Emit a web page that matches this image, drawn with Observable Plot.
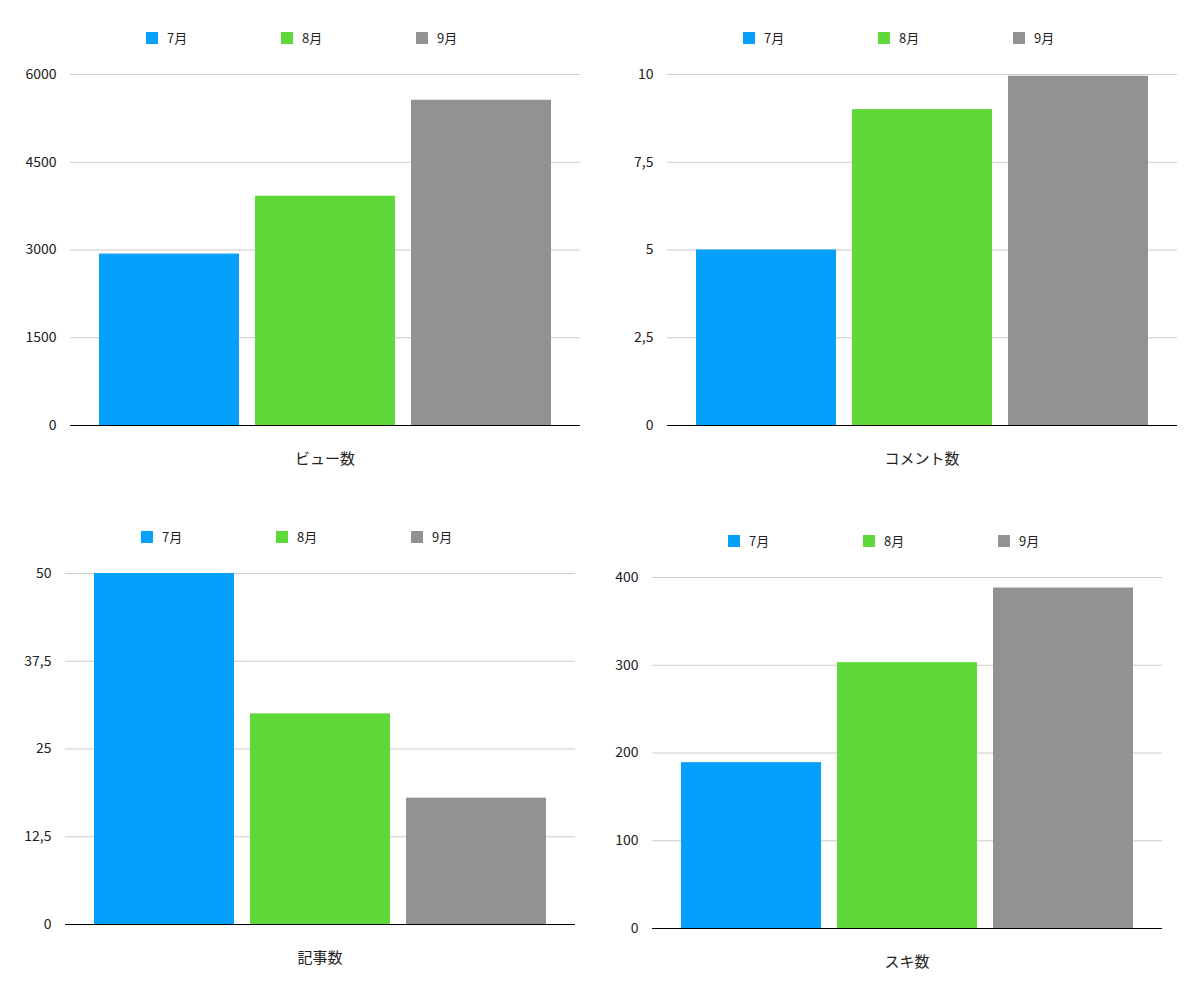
<!DOCTYPE html>
<html><head><meta charset="utf-8">
<script src="https://cdn.jsdelivr.net/npm/d3@7"></script>
<script src="https://cdn.jsdelivr.net/npm/@observablehq/plot@0.6"></script>
<style>
body{margin:0;background:#fff;font-family:"Noto Sans CJK JP","Noto Sans",sans-serif;}
.panel{position:absolute;width:600px;height:500px;}
.leg{position:absolute;top:28px;font-size:13px;color:#222;display:flex;align-items:center;}
.sw{width:12px;height:12px;margin-right:9px;display:inline-block;}
.lab{position:absolute;top:447px;left:70px;width:510px;text-align:center;font-size:15px;color:#222;}
.panel svg{position:absolute;left:0;top:0;}
</style></head><body>
<script>
const months = ["7月","8月","9月"];
const colors = ["#04a0fc","#5fd93a","#929292"];
const titles = ["ビュー数","コメント数","記事数","スキ数"];
const views = [2930, 3920, 5560];
const comments = [5, 9, 9.95];
const articles = [50, 30, 18];
const likes = [189, 303, 388];
const ticks = [[0,1500,3000,4500,6000],[0,2.5,5,7.5,10],[0,12.5,25,37.5,50],[0,100,200,300,400]];
const series = [views, comments, articles, likes];
const offsets = [[0,0],[597,0],[-5,499],[582,503]];

series.forEach((vals, i) => {
  const div = document.createElement("div");
  div.className = "panel";
  div.style.left = offsets[i][0] + "px";
  div.style.top = offsets[i][1] + "px";
  document.body.appendChild(div);
  const data = months.map((m, j) => ({m, v: vals[j]}));
  const t = ticks[i];
  const plot = Plot.plot({
    width: 600, height: 480, marginTop: 74, marginBottom: 55, marginLeft: 70, marginRight: 20,
    style: {fontFamily: "'Noto Sans CJK JP',sans-serif", fontSize: "14px", color: "#222"},
    x: {domain: months, range: [90, 560], paddingInner: 0.1, paddingOuter: 0.05, axis: null},
    y: {domain: [0, t[t.length-1]], ticks: t, tickFormat: d => String(d).replace(".", ","), label: null, tickSize: 0, tickPadding: 14},
    color: {domain: months, range: colors},
    marks: [
      Plot.ruleY(t.slice(1), {stroke: "#ccc", strokeWidth: 1}),
      Plot.barY(data, {x: "m", y: "v", fill: "m"}),
      Plot.ruleY([0], {stroke: "#000", strokeWidth: 1.2})
    ]
  });
  div.appendChild(plot);
  months.forEach((m, j) => {
    const l = document.createElement("div");
    l.className = "leg";
    l.style.left = (146 + 135 * j) + "px";
    l.innerHTML = `<span class="sw" style="background:${colors[j]}"></span>${m}`;
    div.appendChild(l);
  });
  const lab = document.createElement("div");
  lab.className = "lab";
  lab.textContent = titles[i];
  div.appendChild(lab);
});
</script>
</body></html>
